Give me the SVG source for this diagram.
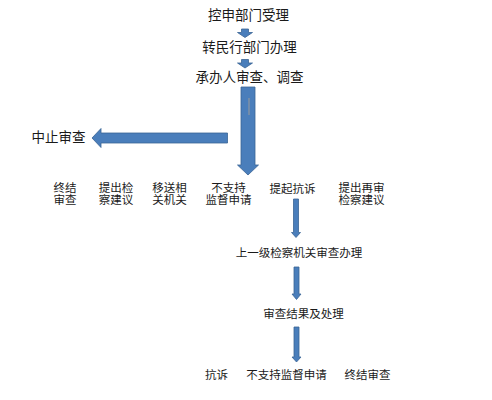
<svg xmlns="http://www.w3.org/2000/svg" width="492" height="400" viewBox="0 0 492 400">
<style>
text{font-family:"Noto Sans CJK SC","Liberation Sans",sans-serif;fill:#1a1a1a;text-anchor:middle}
.l{font-size:13.5px}
.s{font-size:11.5px}
.arr{fill:#4a7ebb;stroke:#3a6596;stroke-width:0.8;stroke-linejoin:miter}
</style>
<rect width="492" height="400" fill="#ffffff"/>
<g id="connectors">
<path class="arr" d="M241.5,29 H248.5 V32.5 H252.5 L245,37.5 L237.5,32.5 H241.5 Z"/>
<path class="arr" d="M241.5,59.5 H248.5 V63 H252.5 L245,68 L237.5,63 H241.5 Z"/>
<path class="arr" d="M241,87 H255 V165 H258.5 L248,175 L237.5,165 H241 Z"/>
<line x1="249" y1="98" x2="249" y2="115" stroke="#9a9a9a" stroke-width="1"/>
<path class="arr" d="M227.5,133 V143 H101 V147.5 L92,138 L101,128.5 V133 Z"/>
<path class="arr" d="M293.5,199 H298.5 V232.5 H300.5 L296,237.5 L291.5,232.5 H293.5 Z"/>
<path class="arr" d="M294,267 H299 V294 H301 L296.5,299.5 L292,294 H294 Z"/>
<path class="arr" d="M294,327 H299 V357 H301 L296.5,362 L292,357 H294 Z"/>
</g>
<g id="n1"><text class="l" x="248.5" y="20">控申部门受理</text></g>
<g id="n2"><text class="l" x="249.5" y="52">转民行部门办理</text></g>
<g id="n3"><text class="l" x="249.5" y="82">承办人审查、调查</text></g>
<g id="n4"><text class="l" x="58.5" y="142">中止审查</text></g>
<g id="n5"><text class="s" x="65" y="192">终结<tspan x="65" dy="12">审查</tspan></text></g>
<g id="n6"><text class="s" x="116" y="192">提出检<tspan x="116" dy="12">察建议</tspan></text></g>
<g id="n7"><text class="s" x="169.5" y="192">移送相<tspan x="169.5" dy="12">关机关</tspan></text></g>
<g id="n8"><text class="s" x="228.5" y="192">不支持<tspan x="228.5" dy="12">监督申请</tspan></text></g>
<g id="n9"><text class="s" x="292.5" y="193">提起抗诉</text></g>
<g id="n10"><text class="s" x="361.5" y="192">提出再审<tspan x="361.5" dy="12">检察建议</tspan></text></g>
<g id="n11"><text class="s" x="299" y="257">上一级检察机关审查办理</text></g>
<g id="n12"><text class="s" x="303.5" y="318">审查结果及处理</text></g>
<g id="n13"><text class="s" x="216.5" y="379">抗诉</text></g>
<g id="n14"><text class="s" x="286.5" y="379">不支持监督申请</text></g>
<g id="n15"><text class="s" x="367.5" y="379">终结审查</text></g>
</svg>
